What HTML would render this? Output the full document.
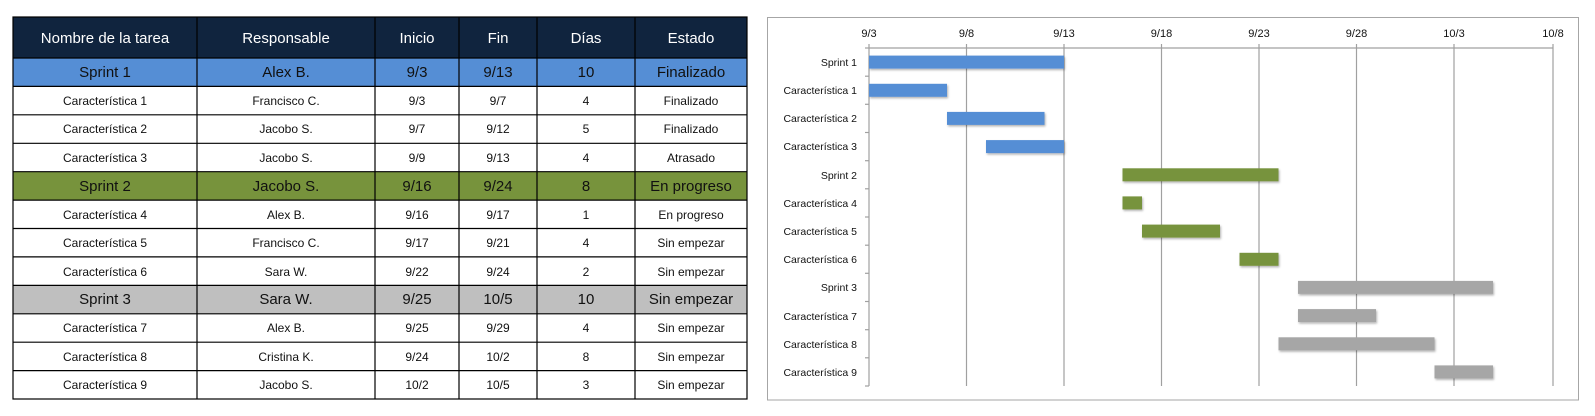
<!DOCTYPE html>
<html><head><meta charset="utf-8"><style>
html,body{margin:0;padding:0;background:#fff;}
svg{display:block;font-family:"Liberation Sans",sans-serif;}
</style></head><body>
<svg width="1595" height="416" viewBox="0 0 1595 416" xmlns="http://www.w3.org/2000/svg">
<defs><filter id="sh" x="-5%" y="-20%" width="110%" height="160%"><feDropShadow dx="1" dy="1.5" stdDeviation="1" flood-color="#000" flood-opacity="0.3"/></filter></defs>
<!-- TABLE -->
<rect x="13" y="17" width="734" height="41" fill="#10243e"/>
<rect x="13" y="58" width="734" height="28.4" fill="#558ed5"/>
<rect x="13" y="171.7" width="734" height="28.4" fill="#77933c"/>
<rect x="13" y="285.4" width="734" height="28.4" fill="#bfbfbf"/>
<g stroke="#000" stroke-width="1.2" fill="none">
<rect x="13" y="17" width="734" height="382"/>
<line x1="197" y1="17" x2="197" y2="399"/><line x1="375" y1="17" x2="375" y2="399"/><line x1="459" y1="17" x2="459" y2="399"/><line x1="537" y1="17" x2="537" y2="399"/><line x1="635" y1="17" x2="635" y2="399"/>
<line x1="13" y1="58" x2="747" y2="58"/><line x1="13" y1="86.4" x2="747" y2="86.4"/><line x1="13" y1="114.8" x2="747" y2="114.8"/><line x1="13" y1="143.3" x2="747" y2="143.3"/><line x1="13" y1="171.7" x2="747" y2="171.7"/><line x1="13" y1="200.1" x2="747" y2="200.1"/><line x1="13" y1="228.5" x2="747" y2="228.5"/><line x1="13" y1="256.9" x2="747" y2="256.9"/><line x1="13" y1="285.4" x2="747" y2="285.4"/><line x1="13" y1="313.8" x2="747" y2="313.8"/><line x1="13" y1="342.2" x2="747" y2="342.2"/><line x1="13" y1="370.6" x2="747" y2="370.6"/>
</g>
<g text-anchor="middle" font-size="15" fill="#fff">
<text x="105" y="43">Nombre de la tarea</text><text x="286" y="43">Responsable</text><text x="417" y="43">Inicio</text><text x="498" y="43">Fin</text><text x="586" y="43">Días</text><text x="691" y="43">Estado</text>
</g>
<g text-anchor="middle" font-size="15" fill="#111">
<text x="105" y="77">Sprint 1</text><text x="286" y="77">Alex B.</text><text x="417" y="77">9/3</text><text x="498" y="77">9/13</text><text x="586" y="77">10</text><text x="691" y="77">Finalizado</text>
<text x="105" y="191">Sprint 2</text><text x="286" y="191">Jacobo S.</text><text x="417" y="191">9/16</text><text x="498" y="191">9/24</text><text x="586" y="191">8</text><text x="691" y="191">En progreso</text>
<text x="105" y="304">Sprint 3</text><text x="286" y="304">Sara W.</text><text x="417" y="304">9/25</text><text x="498" y="304">10/5</text><text x="586" y="304">10</text><text x="691" y="304">Sin empezar</text>
</g>
<g text-anchor="middle" font-size="12" fill="#111">
<text x="105" y="105">Característica 1</text><text x="286" y="105">Francisco C.</text><text x="417" y="105">9/3</text><text x="498" y="105">9/7</text><text x="586" y="105">4</text><text x="691" y="105">Finalizado</text>
<text x="105" y="133">Característica  2</text><text x="286" y="133">Jacobo S.</text><text x="417" y="133">9/7</text><text x="498" y="133">9/12</text><text x="586" y="133">5</text><text x="691" y="133">Finalizado</text>
<text x="105" y="162">Característica  3</text><text x="286" y="162">Jacobo S.</text><text x="417" y="162">9/9</text><text x="498" y="162">9/13</text><text x="586" y="162">4</text><text x="691" y="162">Atrasado</text>
<text x="105" y="219">Característica  4</text><text x="286" y="219">Alex B.</text><text x="417" y="219">9/16</text><text x="498" y="219">9/17</text><text x="586" y="219">1</text><text x="691" y="219">En progreso</text>
<text x="105" y="247">Característica  5</text><text x="286" y="247">Francisco C.</text><text x="417" y="247">9/17</text><text x="498" y="247">9/21</text><text x="586" y="247">4</text><text x="691" y="247">Sin empezar</text>
<text x="105" y="276">Característica  6</text><text x="286" y="276">Sara W.</text><text x="417" y="276">9/22</text><text x="498" y="276">9/24</text><text x="586" y="276">2</text><text x="691" y="276">Sin empezar</text>
<text x="105" y="332">Característica  7</text><text x="286" y="332">Alex B.</text><text x="417" y="332">9/25</text><text x="498" y="332">9/29</text><text x="586" y="332">4</text><text x="691" y="332">Sin empezar</text>
<text x="105" y="361">Característica  8</text><text x="286" y="361">Cristina K.</text><text x="417" y="361">9/24</text><text x="498" y="361">10/2</text><text x="586" y="361">8</text><text x="691" y="361">Sin empezar</text>
<text x="105" y="389">Característica  9</text><text x="286" y="389">Jacobo S.</text><text x="417" y="389">10/2</text><text x="498" y="389">10/5</text><text x="586" y="389">3</text><text x="691" y="389">Sin empezar</text>
</g>
<!-- CHART -->
<rect x="767.5" y="17.5" width="811" height="382.5" fill="#fff" stroke="#a6a6a6" stroke-width="1"/>
<g stroke="#a0a0a0" stroke-width="1.2">
<line x1="869" y1="44" x2="869" y2="386"/><line x1="966.5" y1="44" x2="966.5" y2="386"/><line x1="1064" y1="44" x2="1064" y2="386"/><line x1="1161.5" y1="44" x2="1161.5" y2="386"/><line x1="1259" y1="44" x2="1259" y2="386"/><line x1="1356.5" y1="44" x2="1356.5" y2="386"/><line x1="1454" y1="44" x2="1454" y2="386"/><line x1="1553" y1="44" x2="1553" y2="386"/>
<line x1="869" y1="48" x2="1553" y2="48"/>
<line x1="865" y1="48" x2="869" y2="48"/><line x1="865" y1="76.2" x2="869" y2="76.2"/><line x1="865" y1="104.3" x2="869" y2="104.3"/><line x1="865" y1="132.5" x2="869" y2="132.5"/><line x1="865" y1="160.7" x2="869" y2="160.7"/><line x1="865" y1="188.8" x2="869" y2="188.8"/><line x1="865" y1="217" x2="869" y2="217"/><line x1="865" y1="245.2" x2="869" y2="245.2"/><line x1="865" y1="273.3" x2="869" y2="273.3"/><line x1="865" y1="301.5" x2="869" y2="301.5"/><line x1="865" y1="329.7" x2="869" y2="329.7"/><line x1="865" y1="357.8" x2="869" y2="357.8"/><line x1="865" y1="386" x2="869" y2="386"/>
</g>
<g text-anchor="middle" font-size="11" fill="#111">
<text x="869" y="37">9/3</text><text x="966.5" y="37">9/8</text><text x="1064" y="37">9/13</text><text x="1161.5" y="37">9/18</text><text x="1259" y="37">9/23</text><text x="1356.5" y="37">9/28</text><text x="1454" y="37">10/3</text><text x="1553" y="37">10/8</text>
</g>
<g text-anchor="end" font-size="10.5" fill="#111">
<text x="857" y="66">Sprint 1</text><text x="857" y="94">Característica 1</text><text x="857" y="122">Característica  2</text><text x="857" y="150">Característica  3</text><text x="857" y="179">Sprint 2</text><text x="857" y="207">Característica  4</text><text x="857" y="235">Característica  5</text><text x="857" y="263">Característica  6</text><text x="857" y="291">Sprint 3</text><text x="857" y="320">Característica  7</text><text x="857" y="348">Característica  8</text><text x="857" y="376">Característica  9</text>
</g>
<g filter="url(#sh)">
<g fill="#558ed5">
<rect x="869" y="55.6" width="195" height="13"/><rect x="869" y="83.8" width="78" height="13"/><rect x="947" y="111.9" width="97.5" height="13"/><rect x="986" y="140.1" width="78" height="13"/>
</g>
<g fill="#77933c">
<rect x="1122.5" y="168.3" width="156" height="13"/><rect x="1122.5" y="196.4" width="19.5" height="13"/><rect x="1142" y="224.6" width="78" height="13"/><rect x="1239.5" y="252.8" width="39" height="13"/>
</g>
<g fill="#a6a6a6">
<rect x="1298" y="280.9" width="195" height="13"/><rect x="1298" y="309.1" width="78" height="13"/><rect x="1278.5" y="337.3" width="156" height="13"/><rect x="1434.5" y="365.4" width="58.5" height="13"/>
</g>
</g>
</svg>
</body></html>
